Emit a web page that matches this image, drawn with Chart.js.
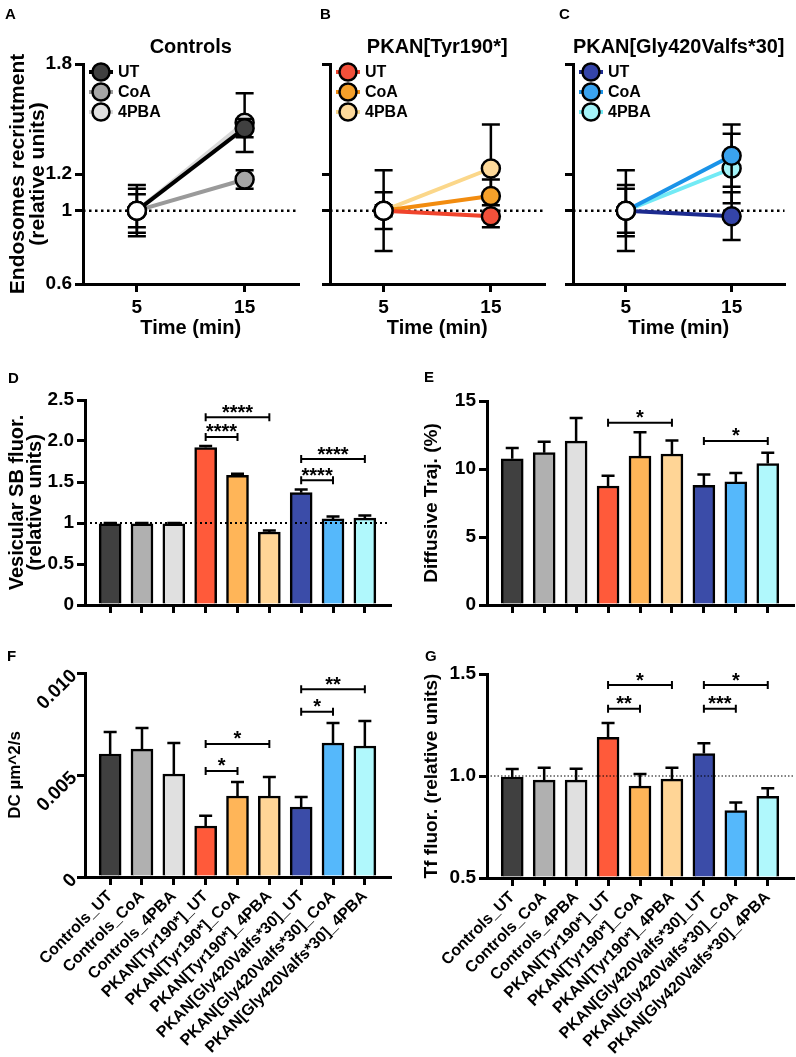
<!DOCTYPE html>
<html>
<head>
<meta charset="utf-8">
<title>Endosome recruitment and trafficking panels</title>
<script src="https://cdn.jsdelivr.net/npm/chart.js@4.4.1/dist/chart.umd.min.js"></script>
<style>
  body { margin: 0; background: #fff; font-family: "Liberation Sans", Arial, sans-serif; }
  #fig { position: relative; width: 796px; height: 1057px; overflow: hidden; }
  canvas { position: absolute; }
  .tag { position: absolute; font-weight: bold; font-size: 15px; line-height: 15px; z-index: 2; }
</style>
</head>
<body>
<div id="fig">
  <canvas id="chartA" width="310" height="340" style="left:0;top:0"></canvas>
  <canvas id="chartB" width="296" height="340" style="left:260px;top:0"></canvas>
  <canvas id="chartC" width="276" height="340" style="left:520px;top:0"></canvas>
  <canvas id="chartD" width="400" height="240" style="left:0;top:380px"></canvas>
  <canvas id="chartE" width="396" height="240" style="left:400px;top:380px"></canvas>
  <canvas id="chartF" width="400" height="407" style="left:0;top:650px"></canvas>
  <canvas id="chartG" width="396" height="407" style="left:400px;top:650px"></canvas>
  <div class="tag" style="left:5px;top:6px">A</div>
  <div class="tag" style="left:320px;top:6px">B</div>
  <div class="tag" style="left:559px;top:6px">C</div>
  <div class="tag" style="left:8px;top:370px">D</div>
  <div class="tag" style="left:424px;top:369px">E</div>
  <div class="tag" style="left:7px;top:648px">F</div>
  <div class="tag" style="left:425px;top:648px">G</div>
</div>
<script>
Chart.defaults.font.family = '"Liberation Sans", Arial, sans-serif';
Chart.defaults.font.weight = 'bold';
Chart.defaults.color = '#000';

// time course panels (A-C)
const timePoints = [5, 15];
const lineYTicks = [0.6, 1, 1.2, 1.8];
const lineYTickLabels = ['0.6', '1', '1.2', '1.8'];
const treatmentNames = ['UT', 'CoA', '4PBA'];

// A - Controls
const ctrlUT = [1.0, 1.45];
const ctrlUTErr = [0.14, 0.05];
const ctrlCoA = [1.0, 1.17];
const ctrlCoAErr = [0.12, 0.05];
const ctrl4PBA = [1.0, 1.48];
const ctrl4PBAErr = [0.09, 0.16];

// B - PKAN[Tyr190*]
const tyrUT = [1.0, 0.97];
const tyrUTErr = [0.22, 0.06];
const tyrCoA = [1.0, 1.08];
const tyrCoAErr = [0.10, 0.09];
const tyr4PBA = [1.0, 1.23];
const tyr4PBAErr = [0.03, 0.24];

// C - PKAN[Gly420Valfs*30]
const glyUT = [1.0, 0.97];
const glyUTErr = [0.22, 0.13];
const glyCoA = [1.0, 1.30];
const glyCoAErr = [0.14, 0.17];
const gly4PBA = [1.0, 1.23];
const gly4PBAErr = [0.12, 0.19];

// bar panels (D-G)
const groups = ['Controls_UT', 'Controls_CoA', 'Controls_4PBA',
  'PKAN[Tyr190*]_UT', 'PKAN[Tyr190*]_CoA', 'PKAN[Tyr190*]_4PBA',
  'PKAN[Gly420Valfs*30]_UT', 'PKAN[Gly420Valfs*30]_CoA', 'PKAN[Gly420Valfs*30]_4PBA'];
const groupIndex = groups.map((g, i) => i);

const sbMean = [0.99, 0.99, 0.99, 1.92, 1.58, 0.89, 1.37, 1.05, 1.06];
const sbErr = [0.01, 0.01, 0.01, 0.02, 0.02, 0.02, 0.04, 0.03, 0.03];
const sbTicks = [0, 0.5, 1, 1.5, 2, 2.5];
const sbTickLabels = ['0', '0.5', '1', '1.5', '2.0', '2.5'];
const sbSig = [[3, 5, 2.29, '****'], [3, 4, 2.05, '****'], [6, 8, 1.78, '****'], [6, 7, 1.52, '****']];

const diffMean = [10.75, 11.2, 12.05, 8.75, 10.95, 11.1, 8.8, 9.05, 10.4];
const diffErr = [0.8, 0.8, 1.7, 0.75, 1.75, 1.0, 0.8, 0.65, 0.8];
const diffTicks = [0, 5, 10, 15];
const diffTickLabels = ['0', '5', '10', '15'];
const diffSig = [[3, 5, 13.4, '*'], [6, 8, 12.06, '*']];

const dcMean = [0.00603, 0.00627, 0.00505, 0.0025, 0.00397, 0.00397, 0.00343, 0.00657, 0.00642];
const dcErr = [0.00108, 0.00103, 0.00152, 0.0005, 0.00069, 0.00093, 0.00049, 0.00098, 0.00123];
const dcTicks = [0, 0.005, 0.01];
const dcTickLabels = ['0', '0.005', '0.010'];
const dcSig = [[3, 5, 0.00652, '*'], [3, 4, 0.0052, '*'], [6, 8, 0.0092, '**'], [6, 7, 0.0081, '*']];

const tfMean = [0.995, 0.98, 0.98, 1.19, 0.95, 0.985, 1.11, 0.83, 0.90];
const tfErr = [0.039, 0.06, 0.055, 0.07, 0.06, 0.055, 0.05, 0.04, 0.04];
const tfTicks = [0.5, 1, 1.5];
const tfTickLabels = ['0.5', '1.0', '1.5'];
const tfSig = [[3, 5, 1.446, '*'], [3, 4, 1.33, '**'], [6, 8, 1.446, '*'], [6, 7, 1.33, '***']];

const barColors = ['#404040', '#b0b0b0', '#e0e0e0', '#ff5a3a', '#ffb558', '#ffd596', '#3b4ca8', '#55b8fb', '#b0f8fc'];

const fontFamily = '"Liberation Sans", Arial, sans-serif';
const axisLine = { display: true, color: '#000', width: 3 };
const tickMarks = { drawOnChartArea: false, drawTicks: true, tickLength: 8, color: '#000', lineWidth: 3, offset: false };

function setTicks(values) {
  return axis => { axis.ticks = values.map(v => ({ value: v })); };
}
function setWidth(w) {
  return axis => { axis.width = w; };
}
function setHeight(h) {
  return axis => { axis.height = h; };
}

function drawRefLine(chart, opts) {
  if (opts.refValue === undefined) return;
  const ctx = chart.ctx;
  const area = chart.chartArea;
  const y = chart.scales.y.getPixelForValue(opts.refValue);
  ctx.save();
  ctx.strokeStyle = '#000';
  ctx.lineWidth = opts.refWidth;
  ctx.setLineDash(opts.refDash);
  ctx.beginPath();
  ctx.moveTo(area.left, y);
  ctx.lineTo(area.right, y);
  ctx.stroke();
  ctx.restore();
}

function drawLegend(chart) {
  const ctx = chart.ctx;
  const area = chart.chartArea;
  chart.data.datasets.forEach((ds, i) => {
    const cx = area.left + 18;
    const cy = area.top + 8 + 20 * i;
    ctx.save();
    ctx.strokeStyle = ds.borderColor;
    ctx.lineWidth = 4;
    ctx.beginPath();
    ctx.moveTo(cx - 12, cy);
    ctx.lineTo(cx + 12, cy);
    ctx.stroke();
    ctx.beginPath();
    ctx.arc(cx, cy, 8.5, 0, Math.PI * 2);
    ctx.fillStyle = ds.legendFill;
    ctx.fill();
    ctx.lineWidth = 2.5;
    ctx.strokeStyle = '#000';
    ctx.stroke();
    ctx.fillStyle = '#000';
    ctx.font = 'bold 16px ' + fontFamily;
    ctx.textAlign = 'left';
    ctx.textBaseline = 'middle';
    ctx.fillText(ds.label, cx + 17, cy + 1);
    ctx.restore();
  });
}

// error bars, dotted reference line, legend and significance brackets
const decor = {
  id: 'decor',
  beforeDatasetsDraw(chart, args, opts) {
    if (opts.refBelow) drawRefLine(chart, opts);
  },
  beforeDatasetDraw(chart, args, opts) {
    if (opts.mode !== 'line') return;
    const ds = chart.data.datasets[args.index];
    const yScale = chart.scales.y;
    const ctx = chart.ctx;
    ctx.save();
    ctx.strokeStyle = '#000';
    ctx.lineWidth = 2.5;
    args.meta.data.forEach((pt, i) => {
      const v = ds.data[i].y;
      const top = yScale.getPixelForValue(v + ds.err[i]);
      const bot = yScale.getPixelForValue(v - ds.err[i]);
      ctx.beginPath();
      ctx.moveTo(pt.x, top);
      ctx.lineTo(pt.x, bot);
      ctx.moveTo(pt.x - 9, top);
      ctx.lineTo(pt.x + 9, top);
      ctx.moveTo(pt.x - 9, bot);
      ctx.lineTo(pt.x + 9, bot);
      ctx.stroke();
    });
    ctx.restore();
  },
  afterDatasetsDraw(chart, args, opts) {
    const ctx = chart.ctx;
    if (opts.mode === 'line') {
      drawLegend(chart);
      return;
    }
    const ds = chart.data.datasets[0];
    const meta = chart.getDatasetMeta(0);
    const xScale = chart.scales.x;
    const yScale = chart.scales.y;
    ctx.save();
    ctx.strokeStyle = '#000';
    ctx.lineWidth = 2.5;
    meta.data.forEach((bar, i) => {
      const top = yScale.getPixelForValue(ds.data[i].y + ds.err[i]);
      ctx.beginPath();
      ctx.moveTo(bar.x, bar.y);
      ctx.lineTo(bar.x, top);
      ctx.moveTo(bar.x - 6.5, top);
      ctx.lineTo(bar.x + 6.5, top);
      ctx.stroke();
    });
    ctx.restore();
    drawRefLine(chart, opts);
    ctx.save();
    ctx.strokeStyle = '#000';
    ctx.fillStyle = '#000';
    ctx.lineWidth = 2;
    ctx.font = 'bold 20px ' + fontFamily;
    ctx.textAlign = 'center';
    ctx.textBaseline = 'alphabetic';
    ds.sig.forEach(([from, to, level, label]) => {
      const x1 = xScale.getPixelForValue(from);
      const x2 = xScale.getPixelForValue(to);
      const y = yScale.getPixelForValue(level);
      ctx.beginPath();
      ctx.moveTo(x1, y);
      ctx.lineTo(x2, y);
      ctx.moveTo(x1, y - 4);
      ctx.lineTo(x1, y + 4);
      ctx.moveTo(x2, y - 4);
      ctx.lineTo(x2, y + 4);
      ctx.stroke();
      ctx.fillText(label, (x1 + x2) / 2, y + 1.5);
    });
    ctx.restore();
  }
};

function linePanel(canvasId, title, means, errs, lineColors, fillColors, yWidth, padRight, showY) {
  const datasets = means.map((m, k) => ({
    label: treatmentNames[k],
    data: timePoints.map((t, i) => ({ x: t, y: m[i] })),
    err: errs[k],
    legendFill: fillColors[k],
    borderColor: lineColors[k],
    borderWidth: 4,
    pointRadius: 9,
    pointHoverRadius: 9,
    pointBorderWidth: 2.5,
    pointBorderColor: '#000',
    pointBackgroundColor: timePoints.map((t, i) => (i === 0 ? '#fff' : fillColors[k]))
  }));

  new Chart(document.getElementById(canvasId), {
    type: 'line',
    data: { datasets: datasets },
    options: {
      responsive: false,
      animation: false,
      events: [],
      devicePixelRatio: 1,
      layout: { padding: { top: 0, left: 0, right: padRight, bottom: 0 } },
      plugins: {
        legend: { display: false },
        tooltip: { enabled: false },
        title: {
          display: true, text: title, fullSize: false, color: '#000',
          font: { size: 20, weight: 'bold' },
          padding: { top: 35, bottom: 5 }
        },
        decor: { mode: 'line', refValue: 1, refWidth: 2.5, refDash: [2.5, 3.5], refBelow: true }
      },
      scales: {
        x: {
          type: 'linear', min: 0, max: 20, offset: false,
          afterBuildTicks: setTicks(timePoints),
          afterFit: setHeight(56),
          border: axisLine,
          grid: tickMarks,
          ticks: { padding: 4, font: { size: 19, weight: 'bold' } },
          title: { display: true, text: 'Time (min)', font: { size: 20, weight: 'bold' }, padding: { top: 0, bottom: 0 } }
        },
        y: {
          min: 0.6, max: 1.8,
          afterBuildTicks: setTicks(lineYTicks),
          afterFit: setWidth(yWidth),
          border: axisLine,
          grid: tickMarks,
          ticks: { display: showY, padding: 3, font: { size: 19, weight: 'bold' }, callback: (v, i) => lineYTickLabels[i] },
          title: {
            display: showY, text: ['Endosomes recriutment', '(relative units)'],
            font: { size: 21, weight: 'bold', lineHeight: 0.95 }, padding: { top: 8, bottom: 0 }
          }
        }
      }
    },
    plugins: [decor]
  });
}

function barPanel(canvasId, means, errs, sig, cfg) {
  new Chart(document.getElementById(canvasId), {
    type: 'bar',
    data: {
      datasets: [{
        data: means.map((v, i) => ({ x: i, y: v })),
        err: errs,
        sig: sig,
        backgroundColor: barColors,
        borderColor: '#000',
        borderWidth: 2.5,
        borderSkipped: 'start',
        barThickness: 22,
        base: cfg.base
      }]
    },
    options: {
      responsive: false,
      animation: false,
      events: [],
      devicePixelRatio: 1,
      layout: { padding: { top: cfg.padTop, left: 0, right: cfg.padRight, bottom: 0 } },
      plugins: {
        legend: { display: false },
        tooltip: { enabled: false },
        decor: { mode: 'bar', refValue: cfg.ref, refWidth: cfg.refWidth, refDash: cfg.refDash }
      },
      scales: {
        x: {
          type: 'linear', min: -0.79, max: 8.79, offset: false,
          afterBuildTicks: setTicks(groupIndex),
          afterFit: setHeight(cfg.xHeight),
          border: axisLine,
          grid: tickMarks,
          ticks: {
            display: cfg.xLabels, autoSkip: false, minRotation: 45, maxRotation: 45, padding: 2,
            font: { size: 16, weight: 'bold' }, callback: v => groups[v]
          }
        },
        y: {
          min: cfg.ticks[0], max: cfg.ticks[cfg.ticks.length - 1],
          afterBuildTicks: setTicks(cfg.ticks),
          afterFit: setWidth(cfg.yWidth),
          border: axisLine,
          grid: tickMarks,
          ticks: {
            padding: 3, minRotation: cfg.yRot, maxRotation: cfg.yRot,
            font: { size: 19, weight: 'bold' }, callback: (v, i) => cfg.tickLabels[i]
          },
          title: {
            display: true, text: cfg.title,
            font: { size: cfg.titleSize, weight: 'bold', lineHeight: cfg.titleLine },
            padding: { top: cfg.titlePad, bottom: 0 }
          }
        }
      }
    },
    plugins: [decor]
  });
}

linePanel('chartA', 'Controls', [ctrlUT, ctrlCoA, ctrl4PBA], [ctrlUTErr, ctrlCoAErr, ctrl4PBAErr],
  ['#000000', '#9a9a9a', '#d9d9d9'], ['#404040', '#a6a6a6', '#e0e0e0'], 83, 7, true);
linePanel('chartB', 'PKAN[Tyr190*]', [tyrUT, tyrCoA, tyr4PBA], [tyrUTErr, tyrCoAErr, tyr4PBAErr],
  ['#f0442c', '#f28c0f', '#fbd78a'], ['#f2503a', '#f5a02a', '#fdd99a'], 70, 6, false);
linePanel('chartC', 'PKAN[Gly420Valfs*30]', [glyUT, glyCoA, gly4PBA], [glyUTErr, glyCoAErr, gly4PBAErr],
  ['#1c2b8f', '#1a93e8', '#72eaf5'], ['#3444a8', '#3aa3ef', '#a4f3f8'], 53, 1, false);

barPanel('chartD', sbMean, sbErr, sbSig, {
  ticks: sbTicks, tickLabels: sbTickLabels, yRot: 0, padTop: 20, padRight: 10, yWidth: 85, xHeight: 15, xLabels: false,
  title: ['Vesicular SB fluor.', '(relative units)'], titleSize: 20, titleLine: 0.9, titlePad: 8,
  ref: 1, refWidth: 1.8, refDash: [2, 3]
});
barPanel('chartE', diffMean, diffErr, diffSig, {
  ticks: diffTicks, tickLabels: diffTickLabels, yRot: 0, padTop: 21, padRight: 3, yWidth: 87, xHeight: 15, xLabels: false,
  title: 'Diffusive Traj. (%)', titleSize: 19, titleLine: 1.2, titlePad: 20
});
barPanel('chartF', dcMean, dcErr, dcSig, {
  ticks: dcTicks, tickLabels: dcTickLabels, yRot: 45, padTop: 23, padRight: 10, yWidth: 85, xHeight: 180, xLabels: true,
  title: 'DC µm^2/s', titleSize: 17, titleLine: 1.2, titlePad: 5
});
barPanel('chartG', tfMean, tfErr, tfSig, {
  ticks: tfTicks, tickLabels: tfTickLabels, yRot: 0, padTop: 24, padRight: 3, yWidth: 87, xHeight: 179, xLabels: true, base: 0.5,
  title: 'Tf fluor. (relative units)', titleSize: 19, titleLine: 1.2, titlePad: 20,
  ref: 1, refWidth: 1, refDash: [1.5, 2]
});
</script>
</body>
</html>
